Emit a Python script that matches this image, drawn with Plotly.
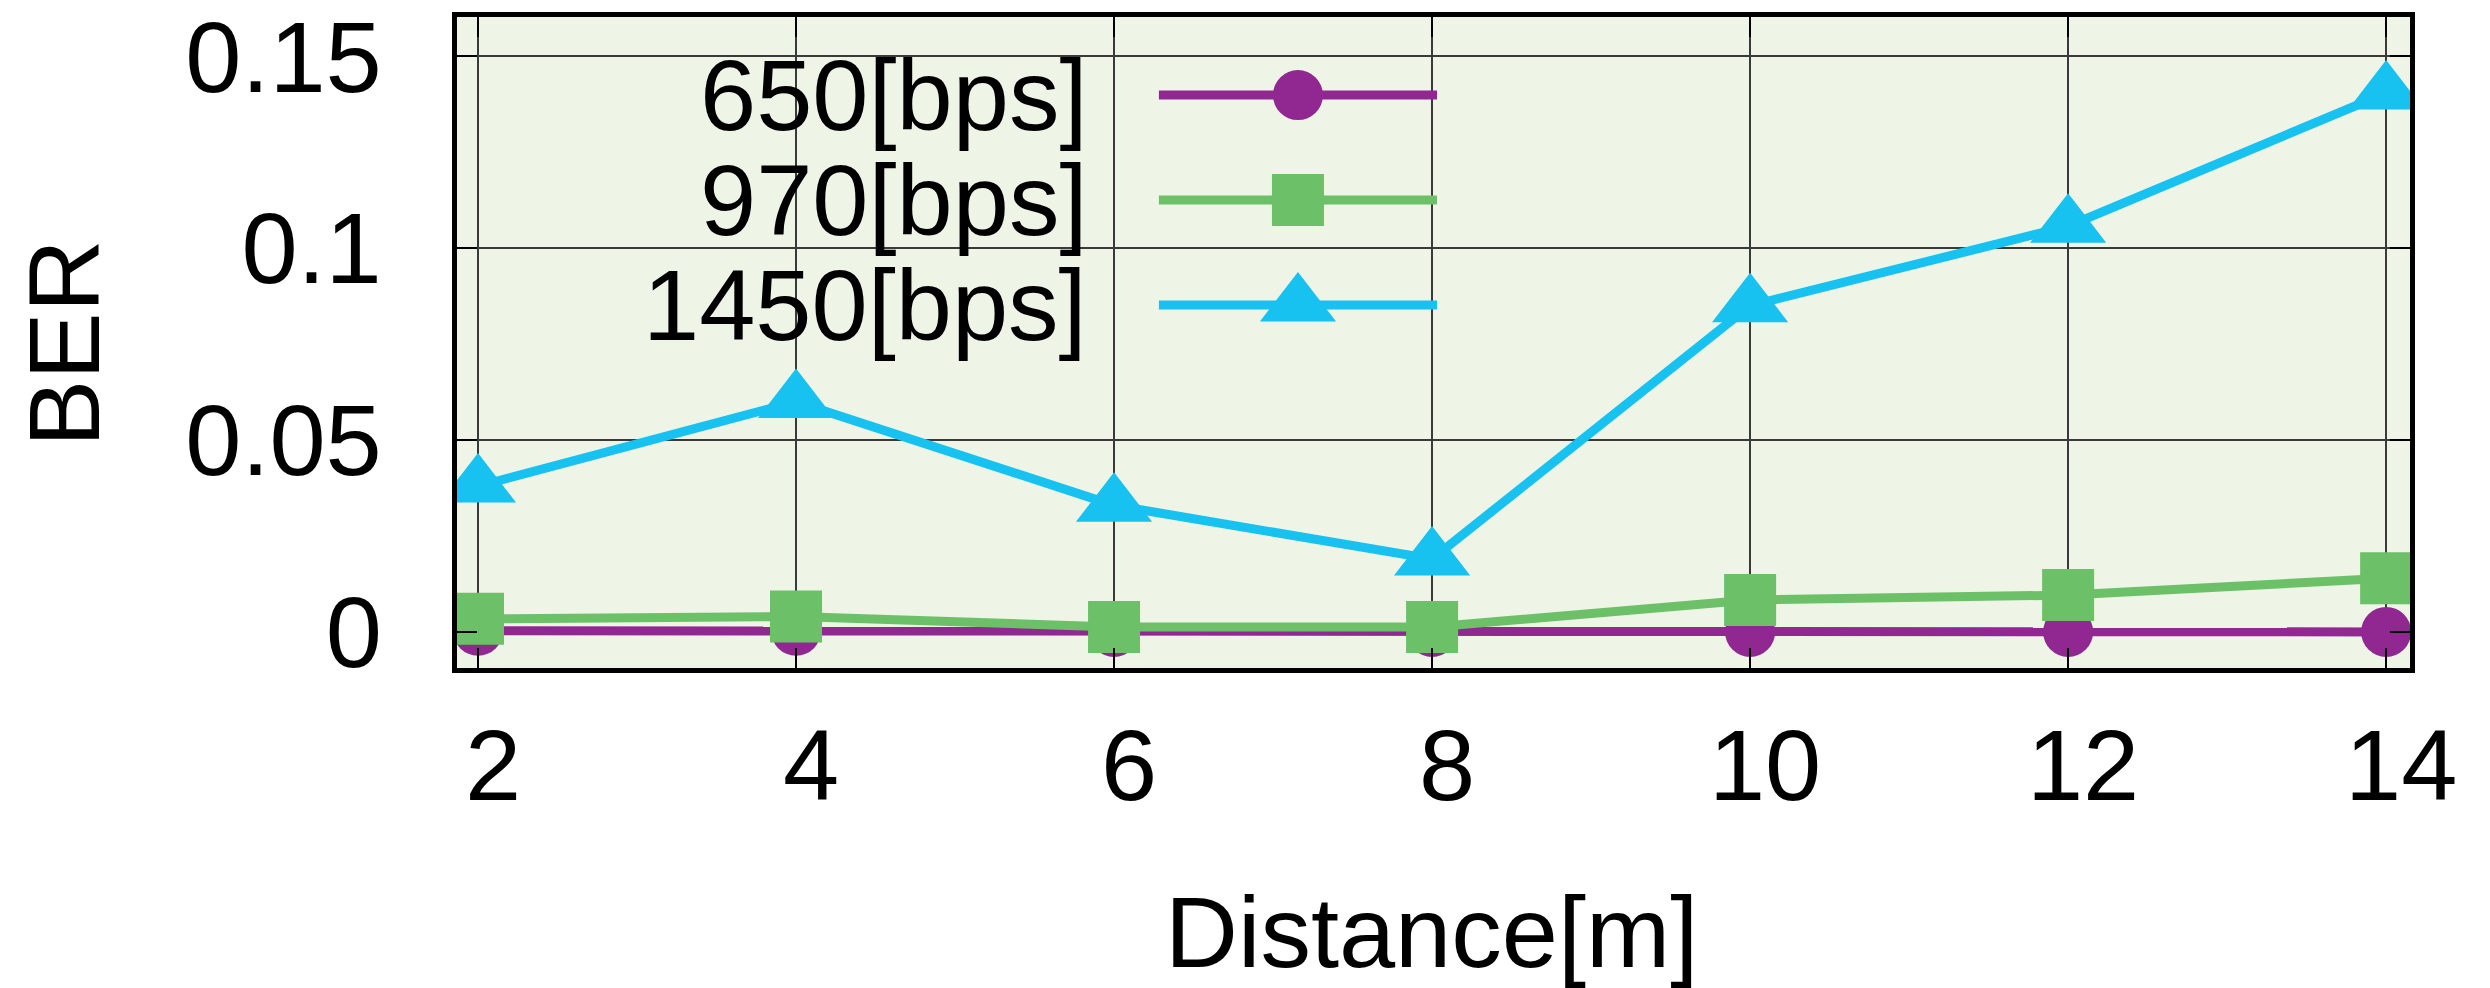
import plotly.graph_objects as go

distance = [2, 4, 6, 8, 10, 12, 14]
ber_650 = [0.0003, 0.0003, 0.0, 0.0, 0.0, 0.0, 0.0]
ber_970 = [0.0034, 0.0040, 0.0013, 0.0013, 0.0083, 0.0096, 0.0140]
ber_1450 = [0.0380, 0.0600, 0.0330, 0.0190, 0.0850, 0.1057, 0.1404]
series_names = ["650[bps]", "970[bps]", "1450[bps]"]
y_tickvals = [0, 0.05, 0.1, 0.15]
y_ticktext = ["0", "0.05", "0.1", "0.15"]

colors = ["#912891", "#6CC068", "#17C2F1"]
symbols = ["circle", "square", "triangle-up"]
msizes = [50, 52, 66]
FONT = "Liberation Sans, Arial, Helvetica, sans-serif"
FS = 101

fig = go.Figure()
for name, ys, c, s, ms in zip(series_names, [ber_650, ber_970, ber_1450], colors, symbols, msizes):
    fig.add_trace(go.Scatter(
        x=distance, y=ys, mode="lines+markers", name=name,
        line=dict(color=c, width=9),
        marker=dict(symbol=s, size=ms, color=c, line=dict(width=0)),
        showlegend=False,
    ))

# custom gnuplot-style key (text left, long sample line with marker at centre)
key_rows = [0.880, 0.719, 0.5576]
key_x0, key_x1 = 0.3594, 0.5018
key_mid = (key_x0 + key_x1) / 2
for name, c, s, ms, yy in zip(series_names, colors, symbols, msizes, key_rows):
    fig.add_trace(go.Scatter(
        x=[key_x0, key_x1], y=[yy, yy], mode="lines", xaxis="x2", yaxis="y2",
        line=dict(color=c, width=9), showlegend=False, hoverinfo="skip",
    ))
    fig.add_trace(go.Scatter(
        x=[key_mid], y=[yy], mode="markers", xaxis="x2", yaxis="y2",
        marker=dict(symbol=s, size=ms, color=c, line=dict(width=0)),
        showlegend=False, hoverinfo="skip",
    ))
    fig.add_annotation(
        x=0.3236, y=yy, xref="paper", yref="paper", text=name, showarrow=False,
        xanchor="right", yanchor="middle", font=dict(family=FONT, size=FS, color="black"),
    )

fig.add_annotation(
    x=0.499, y=-0.405, xref="paper", yref="paper", text="Distance[m]", showarrow=False,
    xanchor="center", yanchor="middle", font=dict(family=FONT, size=FS, color="black"),
)
fig.add_annotation(
    x=-0.2012, y=0.4992, xref="paper", yref="paper", text="BER", showarrow=False,
    textangle=-90, xanchor="center", yanchor="middle",
    font=dict(family=FONT, size=FS, color="black"),
)

axis_common = dict(
    showgrid=True, gridcolor="#3a3a3a", gridwidth=1.5,
    showline=True, linecolor="black", linewidth=5, mirror="ticks",
    ticks="inside", ticklen=20, tickwidth=2, tickcolor="black",
    zeroline=False, ticklabeloverflow="allow", automargin=False,
    tickfont=dict(family=FONT, size=FS, color="black"),
)

fig.update_layout(
    width=2490, height=988,
    margin=dict(l=449, r=88, t=9, b=328),
    paper_bgcolor="white",
    plot_bgcolor="#EEF4E6",
    xaxis=dict(range=[1.868, 14.15], tickvals=distance, ticklabelstandoff=6,
               ticklabelshift=15, **axis_common),
    yaxis=dict(range=[-0.0094, 0.1602], tickvals=y_tickvals, ticktext=y_ticktext,
               ticklabelstandoff=50, **axis_common),
    xaxis2=dict(range=[0, 1], overlaying="x", visible=False),
    yaxis2=dict(range=[0, 1], overlaying="y", visible=False),
    showlegend=False,
)

fig.write_html("out.html")
